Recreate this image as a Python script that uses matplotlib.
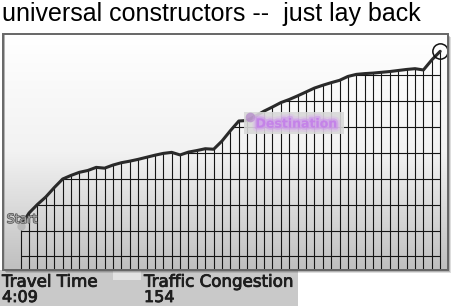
import numpy as np
import matplotlib
matplotlib.use("Agg")
import matplotlib.pyplot as plt
from matplotlib.patches import Rectangle, Polygon
from matplotlib.colors import LinearSegmentedColormap
import matplotlib.patheffects as pe

title = "universal constructors --  just lay back"
# elevation profile, one value per vertical grid line
elevation = [11.8, 16.8, 20.1, 23.0, 26.6, 29.9, 31.3, 32.5, 33.2, 34.4,
             34.1, 35.3, 36.2, 36.8, 37.5, 38.3, 39.1, 39.8, 40.2, 39.2,
             40.3, 40.9, 41.6, 41.4, 44.6, 48.6, 52.3, 52.5, 54.2, 56.1,
             57.7, 59.4, 60.6, 62.0, 63.5, 65.0, 66.1, 67.1, 68.0, 69.5,
             70.3, 70.6, 70.8, 71.1, 71.4, 71.8, 72.2, 72.5, 72.0, 75.9,
             79.2]
levels = [0, 10, 20, 30, 40, 50, 60, 70]
start_label = "Start"
end_label = "Destination"
stat_names = ["Travel Time", "Traffic Congestion"]
stat_values = ["4:09", "154"]

W, H = 452, 306
fig = plt.figure(figsize=(W / 100, H / 100), dpi=100)
fig.patch.set_facecolor('white')

# background layer in pixel coords
bg = fig.add_axes([0, 0, 1, 1], zorder=0)
bg.set_xlim(0, W)
bg.set_ylim(H, 0)
bg.axis('off')
bg.add_patch(Rectangle((0, 270), 298, 36, facecolor='#c9c9c9', edgecolor='none'))
bg.add_patch(Rectangle((113, 270), 28, 10, facecolor='#e2e2e2', edgecolor='none'))
for k, a in [(3, 0.2), (2, 0.3), (1, 0.45)]:
    bg.add_patch(Rectangle((3.5 + k, 34 + k), 444.5, 236, facecolor='#555555',
                           alpha=a, edgecolor='none'))

# the chart itself
ax = fig.add_axes([4.5 / W, 1 - 269 / H, 442.5 / W, 234 / H], zorder=1)
x = np.arange(len(elevation))
xlo, xhi = -1.93, 50.81
ylo, yhi = -4.83, 85.5
grad = LinearSegmentedColormap.from_list('bg', ['#ffffff', '#f2f2f2', '#c0c0c0'])
ax.imshow(np.linspace(0, 1, 200).reshape(-1, 1), cmap=grad,
          extent=[xlo, xhi, ylo, yhi], aspect='auto', origin='upper', zorder=0)
ax.set_xlim(xlo, xhi)
ax.set_ylim(ylo, yhi)
ax.axis('off')

ax.vlines(x, ylo, elevation, colors='#151515', lw=0.8, zorder=2)
area = Polygon(np.column_stack([np.r_[x, x[::-1]],
                                np.r_[elevation, np.full(len(x), ylo)]]),
               closed=True, facecolor='none', edgecolor='none')
ax.add_patch(area)
hl = ax.hlines(levels, x[0], x[-1], colors='#151515', lw=0.8, zorder=2)
hl.set_clip_path(area)

ax.plot(x, elevation, color='#2a2a2a', lw=2.2, solid_joinstyle='round',
        solid_capstyle='round', zorder=3)
ax.plot(x[0], elevation[0], 'o', ms=6, color='#b8b8b8', mec='none', zorder=4)
ax.plot(x[-1], elevation[-1], 'o', ms=11, mfc='none', mec='#111111', mew=1.1, zorder=4)
ax.annotate(start_label, (x[0], elevation[0]), xytext=(-14, 3),
            textcoords='offset pixels', fontsize=9, color='#a8a8a8',
            ha='left', va='baseline', zorder=5,
            path_effects=[pe.withStroke(linewidth=1.0, foreground='#505050')])

# overlay layer
top = fig.add_axes([0, 0, 1, 1], zorder=5)
top.set_xlim(0, W)
top.set_ylim(H, 0)
top.axis('off')
top.patch.set_alpha(0)
top.add_patch(Rectangle((3.5, 34), 444.5, 236, fill=False, edgecolor='#666666', lw=1.4))
top.text(2, 21, title, fontsize=18, family='Liberation Sans', va='baseline', ha='left')

# blurry destination tag
top.add_patch(Rectangle((244, 112), 100, 22, facecolor='#d8d8d8', alpha=0.9, edgecolor='none'))
top.plot(250, 117, 'o', ms=7, color='#a060c0', alpha=0.5, mec='none')
top.text(296, 124, end_label, color='#c27ae8', ha='center', va='center',
         fontsize=9, weight='bold', alpha=0.6,
         path_effects=[pe.Stroke(linewidth=6, foreground='#d9a6f0', alpha=0.3),
                       pe.Stroke(linewidth=3, foreground='#c98cec', alpha=0.5),
                       pe.Normal()])

# readouts
for i, (name, val) in enumerate(zip(stat_names, stat_values)):
    xx = 2 + 142 * i
    top.text(xx, 286.7, name, fontsize=12, family='DejaVu Sans', va='baseline',
             color='#1e1e1e', path_effects=[pe.withStroke(linewidth=0.6, foreground='#1e1e1e')])
    top.text(xx, 302, val, fontsize=11.5, family='DejaVu Sans', va='baseline',
             color='#1e1e1e', path_effects=[pe.withStroke(linewidth=0.6, foreground='#1e1e1e')])

fig.savefig('out.png', dpi=100)
